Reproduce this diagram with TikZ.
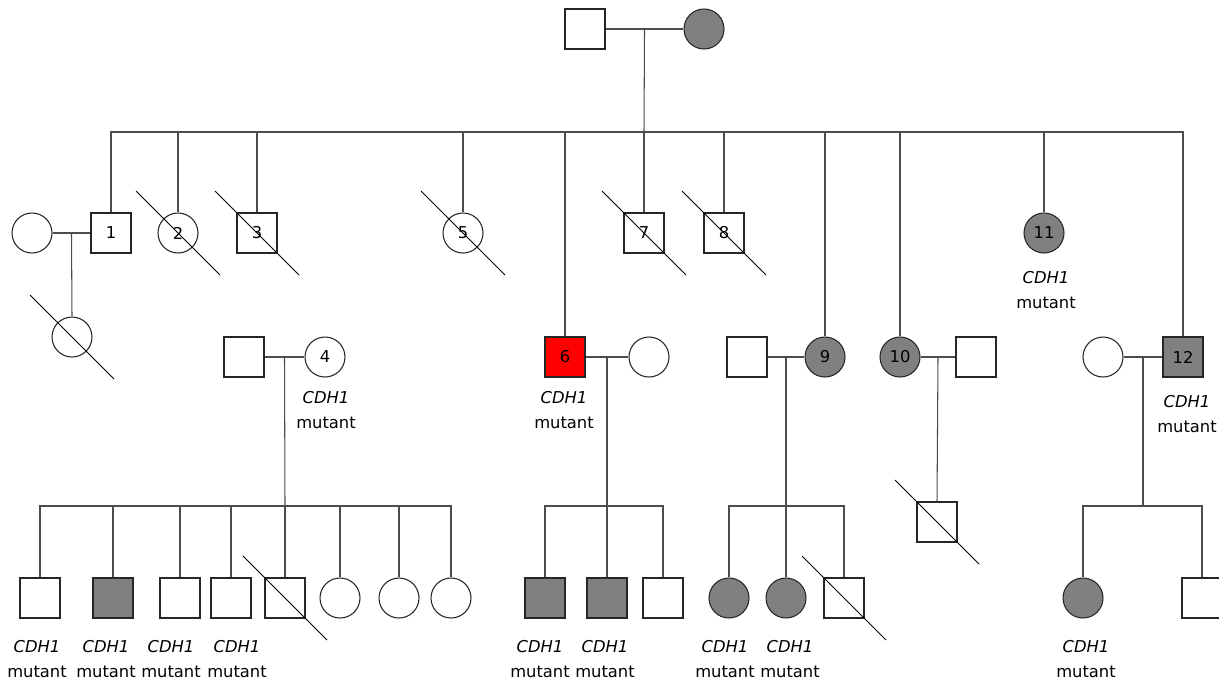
\documentclass[tikz,border=0pt]{standalone}
\usepackage{fontspec}
\setmainfont{DejaVu Sans}
\usetikzlibrary{calc}
\definecolor{affgray}{HTML}{808080}
\definecolor{probred}{HTML}{FF0000}
\tikzset{
  male/.style={draw=black!85,line width=0.6pt,minimum size=0.8cm,inner sep=0pt},
  female/.style={male,circle},
  aff/.style={fill=affgray},
  proband/.style={fill=probred},
  line/.style={draw=black!70,line width=0.6pt},
  slash/.style={draw=black,line width=0.55pt},
  gene/.style={align=center,inner sep=0pt}
}
\newcommand\deadline[1]{\draw[slash] ([shift={(-42,-42)}]#1.center) -- ([shift={(42,42)}]#1.center);}
\begin{document}
\begin{tikzpicture}[x=0.02cm,y=-0.02cm,every node/.style={font=\fontsize{9.3}{14}\selectfont}]
\useasboundingbox (0,0) rectangle (1219,684);
% generation I
\node[male] (gf) at (585,29) {};
\node[female,aff] (gm) at (704,29) {};
% generation II
\node[female] (sp1) at (32,233) {};
\node[male] (p1) at (111,233) {1};
\node[female] (p2) at (178,233) {2};
\node[male] (p3) at (257,233) {3};
\node[female] (p5) at (463,233) {5};
\node[male,proband] (p6) at (565,357) {6};
\node[male] (p7) at (644,233) {7};
\node[male] (p8) at (724,233) {8};
\node[female,aff] (p9) at (825,357) {9};
\node[female,aff] (p10) at (900,357) {10};
\node[female,aff] (p11) at (1044,233) {11};
\node[male,aff] (p12) at (1183,357) {12};
\node[female] (c1) at (72,337) {};
% generation III
\node[male] (sp4) at (244,357) {};
\node[female] (p4) at (325,357) {4};
\node[female] (sp6) at (649,357) {};
\node[male] (sp9) at (747,357) {};
\node[male] (sp10) at (976,357) {};
\node[female] (sp12) at (1103,357) {};
% generation IV
\node[male] (a1) at (40,598) {};
\node[male,aff] (a2) at (113,598) {};
\node[male] (a3) at (180,598) {};
\node[male] (a4) at (231,598) {};
\node[male] (a5) at (285,598) {};
\node[female] (a6) at (340,598) {};
\node[female] (a7) at (399,598) {};
\node[female] (a8) at (451,598) {};
\node[male,aff] (b1) at (545,598) {};
\node[male,aff] (b2) at (607,598) {};
\node[male] (b3) at (663,598) {};
\node[female,aff] (d1) at (729,598) {};
\node[female,aff] (d2) at (786,598) {};
\node[male] (d3) at (844,598) {};
\node[male] (e1) at (937,522) {};
\node[female,aff] (f1) at (1083,598) {};
\node[male] (f2) at (1202,598) {};

% lines of descent
\coordinate (s0) at (644,132);
\draw[line] (gf) -- (gm);
\draw[line] ($(gf.east)!0.5!(gm.west)$) -- (s0);
\draw[line] (p1.north) |- (s0) -| (p12.north);
\foreach \k in {p2,p3,p5,p6,p7,p8,p9,p10,p11}
  \draw[line] (\k.north) -- (\k.north |- s0);

\draw[line] (sp1) -- (p1);
\draw[line] ($(sp1.east)!0.5!(p1.west)$) -- (c1.north);

\coordinate (s4) at (285,506);
\draw[line] (sp4) -- (p4);
\draw[line] ($(sp4.east)!0.5!(p4.west)$) -- (s4);
\draw[line] (a1.north) |- (s4) -| (a8.north);
\foreach \k in {a2,a3,a4,a5,a6,a7}
  \draw[line] (\k.north) -- (\k.north |- s4);

\coordinate (s6) at (607,506);
\draw[line] (p6) -- (sp6);
\draw[line] (b2.north) -- (b2.north |- sp6);
\draw[line] (b1.north) |- (s6) -| (b3.north);

\coordinate (s9) at (786,506);
\draw[line] (sp9) -- (p9);
\draw[line] ($(sp9.east)!0.5!(p9.west)$) -- (d2.north);
\draw[line] (d1.north) |- (s9) -| (d3.north);

\draw[line] (p10) -- (sp10);
\draw[line] ($(p10.east)!0.5!(sp10.west)$) -- (e1.north);

\coordinate (s12) at (1143,506);
\draw[line] (sp12) -- (p12);
\draw[line] ($(sp12.east)!0.5!(p12.west)$) -- (s12);
\draw[line] (f1.north) |- (s12) -| (f2.north);

% deceased
\foreach \k in {p2,p3,p5,p7,p8,c1,a5,d3,e1}
  {\deadline{\k}}

% CDH1 carriers
\node[gene] (l4) at (326,410) {\textit{CDH1}\\mutant};
\node[gene] (l6) at (564,410) {\textit{CDH1}\\mutant};
\node[gene] (l11) at (1046,290) {\textit{CDH1}\\mutant};
\node[gene] (l12) at (1187,414) {\textit{CDH1}\\mutant};
\node[gene] (la1) at (37,659) {\textit{CDH1}\\mutant};
\node[gene] (la2) at (106,659) {\textit{CDH1}\\mutant};
\node[gene] (la3) at (171,659) {\textit{CDH1}\\mutant};
\node[gene] (la4) at (237,659) {\textit{CDH1}\\mutant};
\node[gene] (lb1) at (540,659) {\textit{CDH1}\\mutant};
\node[gene] (lb2) at (605,659) {\textit{CDH1}\\mutant};
\node[gene] (ld1) at (725,659) {\textit{CDH1}\\mutant};
\node[gene] (ld2) at (790,659) {\textit{CDH1}\\mutant};
\node[gene] (lf1) at (1086,659) {\textit{CDH1}\\mutant};
\end{tikzpicture}
\end{document}
